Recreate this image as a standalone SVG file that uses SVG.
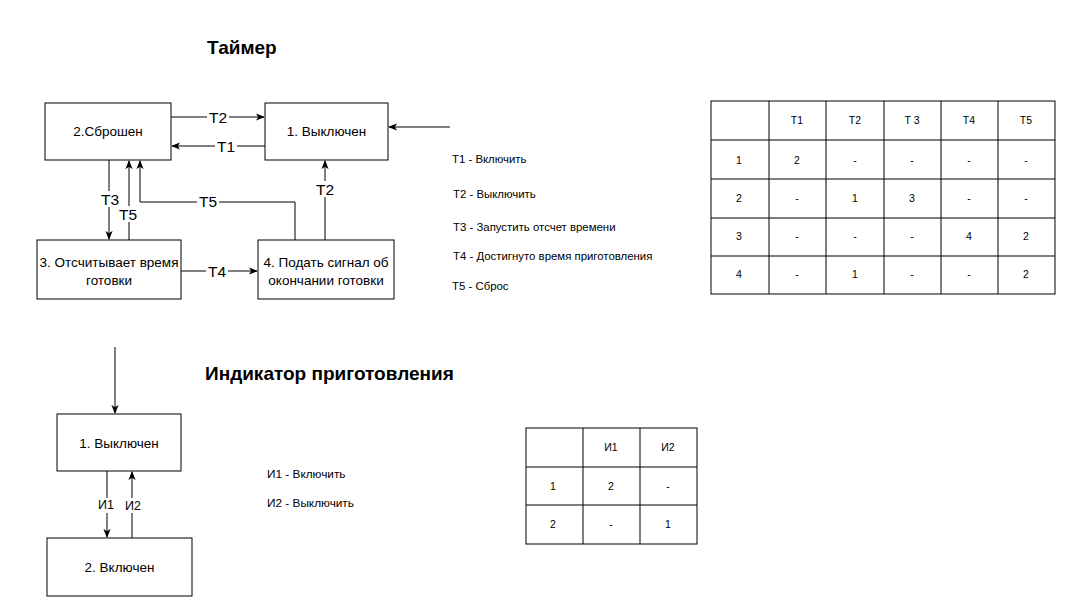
<svg xmlns="http://www.w3.org/2000/svg" width="1076" height="614" viewBox="0 0 1076 614">
<style>
text{font-family:"Liberation Sans",Arial,sans-serif;fill:#000}
.box{fill:#fff;stroke:#000;stroke-width:1}
.bt{font-size:13.5px;text-anchor:middle;dominant-baseline:central}
.il{font-size:12.5px;text-anchor:middle;dominant-baseline:central}
.lbl{font-size:15.5px;text-anchor:middle;dominant-baseline:central}
.lg{font-size:11.4px;dominant-baseline:central}
.lg2{font-size:11.8px;dominant-baseline:central}
.tt{font-size:10.5px;text-anchor:middle;dominant-baseline:central}
.title{font-size:19px;font-weight:bold;dominant-baseline:central}
.ln{fill:none;stroke:#000;stroke-width:1}
.lbg{fill:#fff}
.grid{fill:none;stroke:#000;stroke-width:1}
</style>
<defs>
<marker id="ah" viewBox="0 0 10 10" refX="9" refY="5" markerWidth="9" markerHeight="9" markerUnits="userSpaceOnUse" orient="auto">
<path d="M0,1 L10,5 L0,9 L2.5,5 z" fill="#000"/>
</marker>
</defs>
<rect width="1076" height="614" fill="#fff"/>

<text class="title" x="207" y="47">Таймер</text>
<text class="title" x="205" y="373">Индикатор приготовления</text>

<g id="connectors">
<line class="ln" x1="171" y1="117" x2="264" y2="117" marker-end="url(#ah)"/>
<line class="ln" x1="265" y1="146" x2="172" y2="146" marker-end="url(#ah)"/>
<line class="ln" x1="450" y1="127" x2="389" y2="127" marker-end="url(#ah)"/>
<line class="ln" x1="109" y1="160" x2="109" y2="239" marker-end="url(#ah)"/>
<line class="ln" x1="129" y1="240" x2="129" y2="161" marker-end="url(#ah)"/>
<polyline class="ln" points="295,240 295,202 140,202 140,161" marker-end="url(#ah)"/>
<line class="ln" x1="325" y1="240" x2="325" y2="161" marker-end="url(#ah)"/>
<line class="ln" x1="181" y1="271" x2="257" y2="271" marker-end="url(#ah)"/>
<line class="ln" x1="115" y1="347" x2="115" y2="413" marker-end="url(#ah)"/>
<line class="ln" x1="107" y1="471" x2="107" y2="537" marker-end="url(#ah)"/>
<line class="ln" x1="132" y1="538" x2="132" y2="472" marker-end="url(#ah)"/>

<rect class="lbg" x="207" y="109" width="22" height="16"/>
<text class="lbl" x="218" y="117">T2</text>
<rect class="lbg" x="215" y="138" width="22" height="16"/>
<text class="lbl" x="226" y="146">T1</text>
<rect class="lbg" x="99" y="191" width="22" height="16"/>
<text class="lbl" x="110" y="199">T3</text>
<rect class="lbg" x="117" y="206" width="22" height="16"/>
<text class="lbl" x="128" y="214">T5</text>
<rect class="lbg" x="197" y="194" width="22" height="16"/>
<text class="lbl" x="208" y="201">T5</text>
<rect class="lbg" x="314" y="181" width="22" height="16"/>
<text class="lbl" x="325" y="189">T2</text>
<rect class="lbg" x="206" y="263" width="22" height="16"/>
<text class="lbl" x="217" y="271">T4</text>
<rect class="lbg" x="96" y="498" width="20" height="15"/>
<text class="il" x="106" y="505">И1</text>
<rect class="lbg" x="123" y="498" width="20" height="15"/>
<text class="il" x="133" y="506">И2</text>
</g>

<g id="t-node2">
<rect class="box" x="45" y="103" width="126" height="57"/>
<text class="bt" x="108" y="131">2.Сброшен</text>
</g>
<g id="t-node1">
<rect class="box" x="265" y="103" width="123" height="57"/>
<text class="bt" x="326.5" y="131">1. Выключен</text>
</g>
<g id="t-node3">
<rect class="box" x="37" y="240" width="144" height="59"/>
<text class="bt" x="109" y="262">3. Отсчитывает время</text>
<text class="bt" x="109" y="280">готовки</text>
</g>
<g id="t-node4">
<rect class="box" x="258" y="240" width="136" height="59"/>
<text class="bt" x="326" y="262">4. Подать сигнал об</text>
<text class="bt" x="326" y="280">окончании готовки</text>
</g>

<g id="t-legend">
<text class="lg" x="452" y="159">T1 - Включить</text>
<text class="lg" x="453" y="194">T2 - Выключить</text>
<text class="lg" x="453" y="227">T3 - Запустить отсчет времени</text>
<text class="lg" x="453" y="256">T4 - Достигнуто время приготовления</text>
<text class="lg" x="452" y="286">T5 - Сброс</text>
</g>

<g id="t-table">
<rect class="grid" x="711" y="101" width="344" height="193"/>
<path class="grid" d="M769,101V294M826,101V294M884,101V294M941,101V294M998,101V294M711,140H1055M711,179H1055M711,218H1055M711,256H1055"/>
<text class="tt" x="797" y="120">T1</text>
<text class="tt" x="855" y="120">T2</text>
<text class="tt" x="912" y="120">T 3</text>
<text class="tt" x="969" y="120">T4</text>
<text class="tt" x="1026" y="120">T5</text>
<text class="tt" x="739" y="160">1</text>
<text class="tt" x="797" y="160">2</text>
<text class="tt" x="855" y="160">-</text>
<text class="tt" x="912" y="160">-</text>
<text class="tt" x="969" y="160">-</text>
<text class="tt" x="1026" y="160">-</text>
<text class="tt" x="739" y="198">2</text>
<text class="tt" x="797" y="198">-</text>
<text class="tt" x="855" y="198">1</text>
<text class="tt" x="912" y="198">3</text>
<text class="tt" x="969" y="198">-</text>
<text class="tt" x="1026" y="198">-</text>
<text class="tt" x="739" y="236">3</text>
<text class="tt" x="797" y="236">-</text>
<text class="tt" x="855" y="236">-</text>
<text class="tt" x="912" y="236">-</text>
<text class="tt" x="969" y="236">4</text>
<text class="tt" x="1026" y="236">2</text>
<text class="tt" x="739" y="274">4</text>
<text class="tt" x="797" y="274">-</text>
<text class="tt" x="855" y="274">1</text>
<text class="tt" x="912" y="274">-</text>
<text class="tt" x="969" y="274">-</text>
<text class="tt" x="1026" y="274">2</text>
</g>

<g id="i-node1">
<rect class="box" x="57" y="414" width="124" height="57"/>
<text class="bt" x="119" y="443">1. Выключен</text>
</g>
<g id="i-node2">
<rect class="box" x="47" y="538" width="145" height="58"/>
<text class="bt" x="119.5" y="567">2. Включен</text>
</g>

<g id="i-legend">
<text class="lg2" x="267" y="474">И1 - Включить</text>
<text class="lg2" x="267" y="503">И2 - Выключить</text>
</g>

<g id="i-table">
<rect class="grid" x="526" y="428" width="171" height="116"/>
<path class="grid" d="M583,428V544M640,428V544M526,467H697M526,505H697"/>
<text class="tt" x="611" y="447">И1</text>
<text class="tt" x="668" y="447">И2</text>
<text class="tt" x="553" y="486">1</text>
<text class="tt" x="611" y="486">2</text>
<text class="tt" x="668" y="486">-</text>
<text class="tt" x="553" y="524">2</text>
<text class="tt" x="611" y="524">-</text>
<text class="tt" x="668" y="524">1</text>
</g>
</svg>
